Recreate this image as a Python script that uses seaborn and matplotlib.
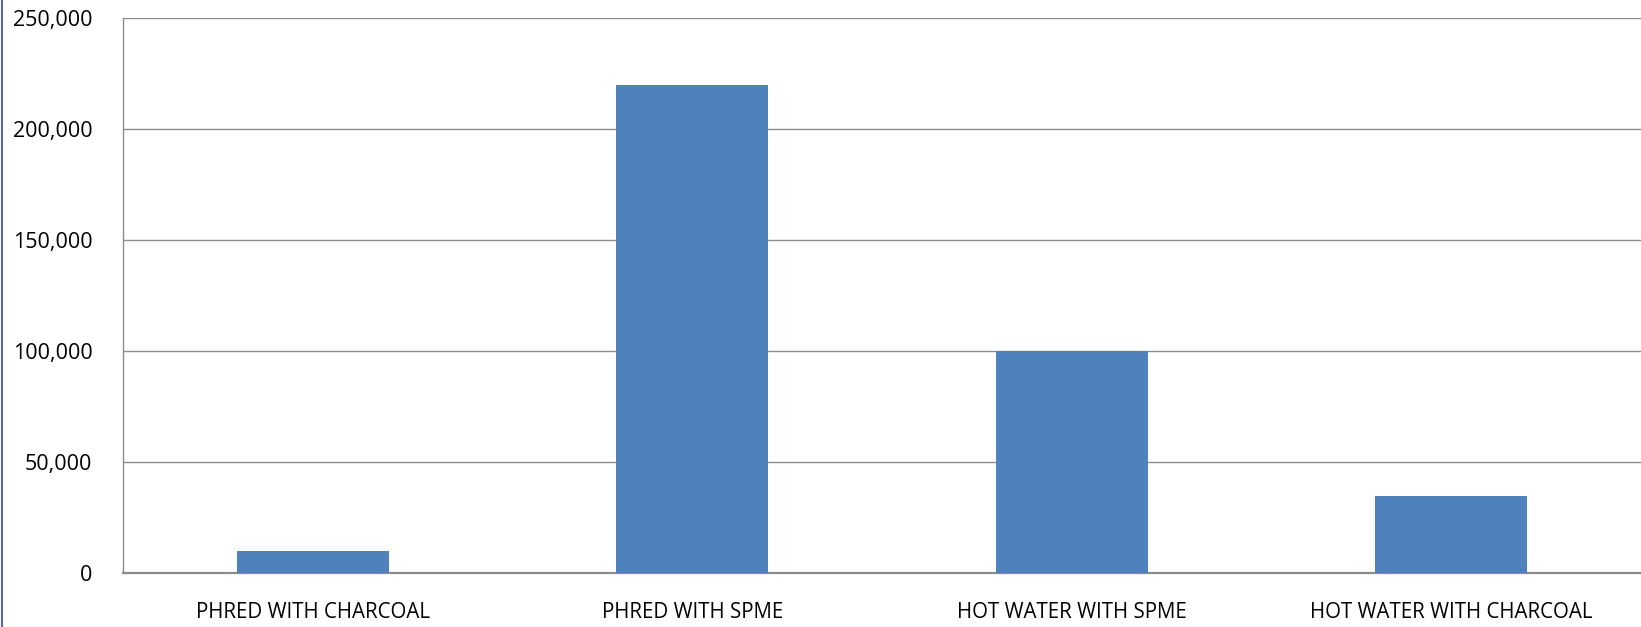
import matplotlib
matplotlib.use("Agg")
import matplotlib.pyplot as plt
from matplotlib.lines import Line2D
from matplotlib.ticker import FuncFormatter
import seaborn as sns
import pandas as pd

categories = ["PHRED WITH CHARCOAL", "PHRED WITH SPME",
              "HOT WATER WITH SPME", "HOT WATER WITH CHARCOAL"]
values = [10000, 220000, 100000, 34500]
y_ticks = [0, 50000, 100000, 150000, 200000, 250000]

sns.set_theme(style="white")
plt.rcParams["font.family"] = ["Open Sans", "DejaVu Sans"]

df = pd.DataFrame({"method": categories, "value": values})

W, H = 1641, 627
fig = plt.figure(figsize=(W / 100, H / 100), dpi=100)
ax = fig.add_axes([123 / W, 1 - 573 / H, (W - 123) / W, (573 - 18) / H])

sns.barplot(data=df, x="method", y="value", color="#4F81BD", width=0.40,
            saturation=1, linewidth=0, ax=ax, zorder=3)

ax.set_ylim(0, 250000)
ax.set_xlim(-0.5, 3.5)
ax.set_yticks(y_ticks)
ax.yaxis.set_major_formatter(FuncFormatter(lambda v, p: f"{int(v):,}"))
ax.grid(axis="y", color="#8C8C8C", linewidth=1.0, zorder=0)
ax.set_axisbelow(True)
ax.set_xlabel("")
ax.set_ylabel("")
ax.tick_params(axis="both", length=0, colors="#000000")
ax.tick_params(axis="y", pad=22, labelsize=15.5)
ax.tick_params(axis="x", pad=21, labelsize=14.8)

for side in ["top", "right"]:
    ax.spines[side].set_visible(False)
ax.spines["left"].set_color("#8C8C8C")
ax.spines["left"].set_linewidth(1.0)
ax.spines["bottom"].set_color("#8C8C8C")
ax.spines["bottom"].set_linewidth(1.6)

# thin frame line along the left edge of the figure
fig.add_artist(Line2D([1.5 / W, 1.5 / W], [0, 1], transform=fig.transFigure,
                      color="#5B6B8C", linewidth=1.5))

fig.savefig("out.png", dpi=100, facecolor="white")
